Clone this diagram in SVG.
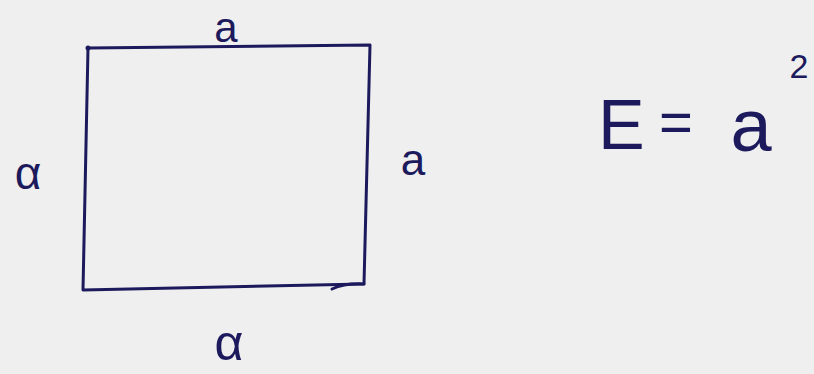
<svg xmlns="http://www.w3.org/2000/svg" width="814" height="374" viewBox="0 0 814 374">
<style>
.ink{fill:none;stroke:#1c1a5c;stroke-width:3;stroke-linecap:round;stroke-linejoin:round}
.lbl{fill:#1c1a5c;font-family:"Liberation Sans","DejaVu Sans",sans-serif}
</style>
<rect width="814" height="374" fill="#efefef"/>
<g id="square">
<path class="ink" d="M88,48 L370,45 L364,284 L83,290 Z"/>
<path class="ink" d="M332,289 Q345,283 364,284"/>
<circle cx="88" cy="48" r="2.5" fill="#1c1a5c"/>
</g>
<g id="label-top"><text class="lbl" x="226" y="42" font-size="42" text-anchor="middle">a</text></g>
<g id="label-left"><text class="lbl" x="28" y="189" font-size="46" text-anchor="middle">α</text></g>
<g id="label-right"><text class="lbl" x="413" y="175" font-size="44" text-anchor="middle">a</text></g>
<g id="label-bottom"><text class="lbl" x="229" y="360" font-size="50" text-anchor="middle">α</text></g>
<g id="formula">
<text class="lbl" x="598" y="149" font-size="70">E</text>
<text class="lbl" x="676" y="142" font-size="58" text-anchor="middle">=</text>
<text class="lbl" x="751" y="151" font-size="74" text-anchor="middle">a</text>
<text class="lbl" x="799" y="78" font-size="34" text-anchor="middle">2</text>
</g>
</svg>
